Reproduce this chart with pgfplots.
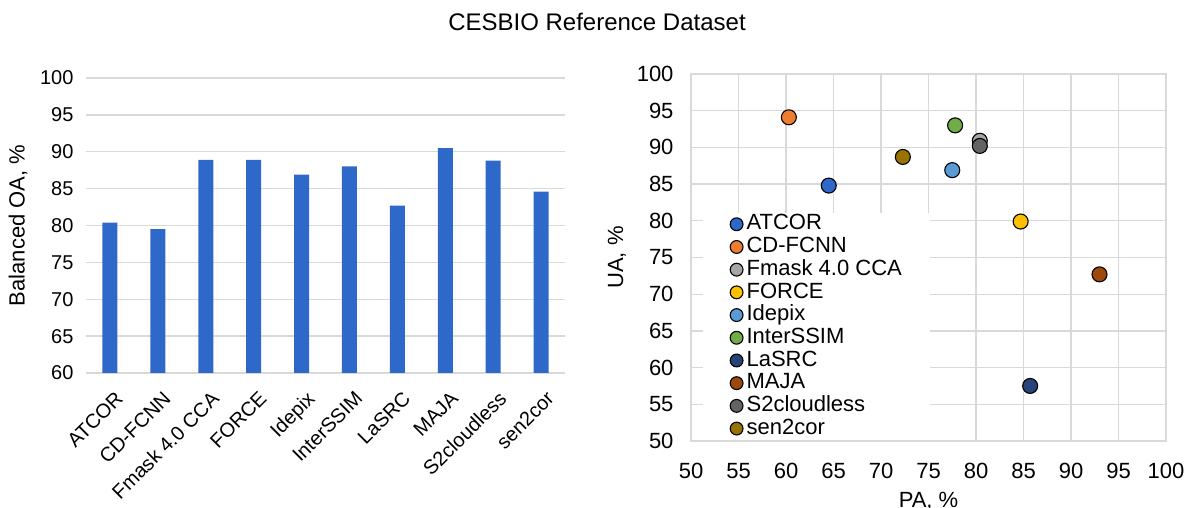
\documentclass[border=0pt]{standalone}
\usepackage{pgfplots}
\pgfplotsset{compat=1.18}
\usepackage{fontspec}
\setmainfont{Liberation Sans}
\definecolor{barc}{HTML}{2E68C8}
\definecolor{gridc}{HTML}{D9D9D9}
\definecolor{cA}{HTML}{2E68C8}
\definecolor{cB}{HTML}{ED7D31}
\definecolor{cC}{HTML}{A5A5A5}
\definecolor{cD}{HTML}{FFC000}
\definecolor{cE}{HTML}{5B9BD5}
\definecolor{cF}{HTML}{70AD47}
\definecolor{cG}{HTML}{264478}
\definecolor{cH}{HTML}{9E480E}
\definecolor{cI}{HTML}{636363}
\definecolor{cJ}{HTML}{997300}
\pgfplotsset{
  dot/.style={only marks, mark=*, mark size=7.5pt, mark options={fill=#1, draw=black, line width=1.1pt}},
}
\begin{document}
\begin{tikzpicture}[x=1pt,y=1pt]
\useasboundingbox (0,0) rectangle (1191,508);
\node[font=\fontsize{24}{28}\selectfont] at (597,486) {CESBIO Reference Dataset};

\begin{axis}[at={(86pt,135pt)}, anchor=south west, scale only axis,
  width=479pt, height=295pt,
  xmin=-0.5, xmax=9.5, ymin=60, ymax=100,
  ytick={60,65,...,100}, xtick={0,...,9},
  xticklabels={ATCOR,CD-FCNN,Fmask 4.0 CCA,FORCE,Idepix,InterSSIM,LaSRC,MAJA,S2cloudless,sen2cor},
  axis line style={draw=none}, major tick length=0pt,
  ymajorgrids, grid style={color=gridc, line width=1.3pt},
  /pgf/number format/assume math mode=true,
  ticklabel style={font=\fontsize{20}{24}\selectfont},
  xticklabel style={font=\fontsize{20}{24}\selectfont, rotate=45, anchor=north east, inner sep=1pt, xshift=-8pt, yshift=-14pt},
  yticklabel style={xshift=-9pt},
  ylabel={Balanced OA, \%},
  ylabel style={font=\fontsize{22}{24}\selectfont, at={(axis description cs:-0.142,0.5)}, anchor=center},
]
\addplot[ybar, bar width=15pt, fill=barc, draw=none] coordinates {
(0,80.4) (1,79.5) (2,88.9) (3,88.9) (4,86.9) (5,88.0) (6,82.7) (7,90.5) (8,88.8) (9,84.6)};
\end{axis}

\begin{axis}[at={(691pt,67pt)}, anchor=south west, scale only axis,
  width=475pt, height=367pt,
  xmin=50, xmax=100, ymin=50, ymax=100,
  xtick={50,55,...,100}, ytick={50,55,...,100},
  grid=major, grid style={color=gridc, line width=1.3pt},
  axis line style={draw=gridc, line width=1.3pt}, major tick length=0pt,
  /pgf/number format/assume math mode=true,
  ticklabel style={font=\fontsize{22}{26}\selectfont},
  xticklabel style={yshift=-19pt},
  yticklabel style={xshift=-14pt},
  xlabel={PA, \%}, ylabel={UA, \%},
  xlabel style={font=\fontsize{22}{26}\selectfont, at={(axis description cs:0.5,-0.165)}, anchor=center},
  ylabel style={font=\fontsize{22}{26}\selectfont, at={(axis description cs:-0.156,0.5)}, anchor=center},
  legend image code/.code={\draw[#1, mark size=6.4pt] plot coordinates {(0pt,0pt)}; \path[draw=none, fill=none] (-7pt,-6pt) rectangle (7pt,6pt);},
  legend cell align=left,
  legend style={at={(axis cs:51.2,81.1)}, anchor=north west, draw=none, fill=white,
    inner xsep=27pt, inner ysep=0pt, column sep=2pt,
    font=\fontsize{22}{24}\selectfont, row sep=0pt,
    nodes={inner sep=1pt, text height=16pt, text depth=4.7pt}},
]
\addplot[dot=cA] coordinates {(64.5,84.8)}; \addlegendentry{ATCOR}
\addplot[dot=cB] coordinates {(60.3,94.1)}; \addlegendentry{CD-FCNN}
\addplot[dot=cC] coordinates {(80.4,90.9)}; \addlegendentry{Fmask 4.0 CCA}
\addplot[dot=cD] coordinates {(84.7,79.9)}; \addlegendentry{FORCE}
\addplot[dot=cE] coordinates {(77.5,86.9)}; \addlegendentry{Idepix}
\addplot[dot=cF] coordinates {(77.8,93.0)}; \addlegendentry{InterSSIM}
\addplot[dot=cG] coordinates {(85.7,57.5)}; \addlegendentry{LaSRC}
\addplot[dot=cH] coordinates {(93.0,72.7)}; \addlegendentry{MAJA}
\addplot[dot=cI] coordinates {(80.4,90.2)}; \addlegendentry{S2cloudless}
\addplot[dot=cJ] coordinates {(72.3,88.7)}; \addlegendentry{sen2cor}
\end{axis}
\end{tikzpicture}
\end{document}
